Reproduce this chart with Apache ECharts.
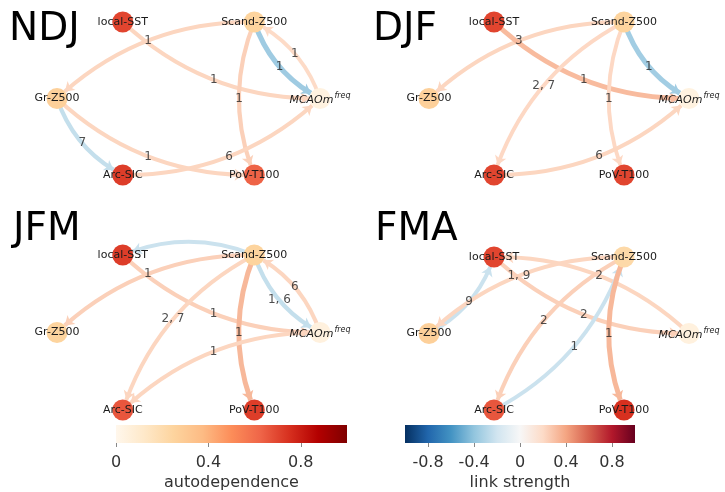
<!DOCTYPE html>
<html><head><meta charset="utf-8">
<script src="https://cdn.jsdelivr.net/npm/echarts@6/dist/echarts.min.js"></script>
<style>html,body{margin:0;padding:0;background:#fff}#c{width:725px;height:492px}</style>
</head><body><div id="c"></div>
<script>
// ---------------- data ----------------
const panelNames = ['NDJ', 'DJF', 'JFM', 'FMA'];
const nodeNames = ['Gr-Z500', 'local-SST', 'Scand-Z500', 'MCAOm', 'Arc-SIC', 'PoV-T100'];
// node layout on the circle (graph layout coordinates)
const nodeX = [-1, -0.5, 0.5, 1, -0.5, 0.5];
const nodeY = [0, 0.866, 0.866, 0, -0.866, -0.866];
// autodependence per node (order as nodeNames)
const autodepNDJ = [0.27, 0.70, 0.25, 0.04, 0.72, 0.63];
const autodepDJF = [0.27, 0.70, 0.25, 0.04, 0.70, 0.70];
const autodepJFM = [0.25, 0.72, 0.25, 0.05, 0.66, 0.72];
const autodepFMA = [0.27, 0.70, 0.22, 0.05, 0.66, 0.75];
// links: [source, target, link strength, lag label]
const linksNDJ = [
  ['Scand-Z500', 'Gr-Z500', 0.22, '1'],
  ['local-SST', 'MCAOm', 0.22, '1'],
  ['Scand-Z500', 'MCAOm', -0.36, '1'],
  ['MCAOm', 'Scand-Z500', 0.20, '1'],
  ['Scand-Z500', 'PoV-T100', 0.24, '1'],
  ['Gr-Z500', 'Arc-SIC', -0.24, '7'],
  ['Gr-Z500', 'PoV-T100', 0.22, '1'],
  ['Arc-SIC', 'MCAOm', 0.22, '6']
];
const linksDJF = [
  ['Scand-Z500', 'Gr-Z500', 0.22, '3'],
  ['local-SST', 'MCAOm', 0.32, '1'],
  ['Scand-Z500', 'Arc-SIC', 0.21, '2, 7'],
  ['Scand-Z500', 'PoV-T100', 0.21, '1'],
  ['Scand-Z500', 'MCAOm', -0.35, '1'],
  ['Arc-SIC', 'MCAOm', 0.22, '6']
];
const linksJFM = [
  ['Scand-Z500', 'local-SST', -0.22, '2'],
  ['Scand-Z500', 'Gr-Z500', 0.24, '1'],
  ['local-SST', 'MCAOm', 0.24, '1'],
  ['Scand-Z500', 'Arc-SIC', 0.22, '2, 7'],
  ['Scand-Z500', 'PoV-T100', 0.33, '1'],
  ['Scand-Z500', 'MCAOm', -0.24, '1, 6'],
  ['MCAOm', 'Scand-Z500', 0.22, '6'],
  ['MCAOm', 'Arc-SIC', 0.22, '1']
];
const linksFMA = [
  ['Gr-Z500', 'local-SST', -0.22, '9'],
  ['Scand-Z500', 'Gr-Z500', 0.22, '1, 9'],
  ['local-SST', 'MCAOm', 0.24, '2'],
  ['MCAOm', 'local-SST', 0.22, '2'],
  ['Scand-Z500', 'Arc-SIC', 0.24, '2'],
  ['Arc-SIC', 'Scand-Z500', -0.22, '1'],
  ['Scand-Z500', 'PoV-T100', 0.33, '1']
];
const autoTicks = [0, 0.4, 0.8];
const linkTicks = [-0.8, -0.4, 0, 0.4, 0.8];
const autoRange = [0, 1];
const linkRange = [-1, 1];

// ---------------- styles / layout ----------------
const autodeps = [autodepNDJ, autodepDJF, autodepJFM, autodepFMA];
const linkSets = [linksNDJ, linksDJF, linksJFM, linksFMA];
const panelBoxes = [
  {left: 57, top: 22, width: 263, height: 153},
  {left: 429, top: 22, width: 260, height: 153},
  {left: 57, top: 255, width: 263, height: 155},
  {left: 429, top: 257, width: 260, height: 153}
];
const titlePos = [
  {left: 9, top: 10}, {left: 373, top: 10}, {left: 13, top: 210}, {left: 375, top: 210}
];
const OrRd = ['#fff7ec','#fee8c8','#fdd49e','#fdbb84','#fc8d59','#ef6548','#d7301f','#b30000','#7f0000'];
const RdBu_r = ['#053061','#2166ac','#4393c3','#92c5de','#d1e5f0','#f7f7f7','#fddbc7','#f4a582','#d6604d','#b2182b','#67001f'];
const CURV = -0.2;
const FONT = 'DejaVu Sans';

function hex2rgb(h) { return [parseInt(h.substr(1,2),16), parseInt(h.substr(3,2),16), parseInt(h.substr(5,2),16)]; }
function cmap(stops, t) {
  t = Math.max(0, Math.min(1, t));
  const pos = t * (stops.length - 1);
  const i = Math.min(stops.length - 2, Math.floor(pos));
  const f = pos - i;
  const a = hex2rgb(stops[i]), b = hex2rgb(stops[i + 1]);
  const c = a.map((v, k) => Math.round(v + (b[k] - v) * f));
  return 'rgb(' + c.join(',') + ')';
}
function gradient(stops) {
  return {type: 'linear', x: 0, y: 0, x2: 1, y2: 0,
    colorStops: stops.map((s, i) => ({offset: i / (stops.length - 1), color: s}))};
}

const chart = echarts.init(document.getElementById('c'), null, {renderer: 'canvas'});

const grids = [], xAxes = [], yAxes = [], series = [], titles = [];
panelNames.forEach((name, i) => {
  grids.push(Object.assign({show: false}, panelBoxes[i]));
  xAxes.push({gridIndex: i, type: 'value', min: -1, max: 1, show: false});
  yAxes.push({gridIndex: i, type: 'value', min: -0.866, max: 0.866, show: false});
  titles.push({text: name, left: titlePos[i].left, top: titlePos[i].top, padding: 0,
    textStyle: {fontFamily: FONT, fontSize: 39, fontWeight: 'normal', color: '#000'}});
  series.push({
    type: 'graph', coordinateSystem: 'cartesian2d', xAxisIndex: i, yAxisIndex: i,
    layout: 'none', symbol: 'circle', symbolSize: 21,
    edgeSymbol: ['none', 'arrow'], edgeSymbolSize: 9,
    emphasis: {disabled: true},
    z: 2,
    label: {
      show: true, position: 'inside', color: '#1a1a1a', fontSize: 11, fontFamily: FONT,
      formatter: p => p.name === 'MCAOm' ? '{it|MCAOm}{sup|freq}' : p.name,
      rich: {
        it: {fontStyle: 'italic', fontSize: 11, color: '#1a1a1a', fontFamily: FONT, verticalAlign: 'bottom'},
        sup: {fontStyle: 'italic', fontSize: 8, color: '#1a1a1a', fontFamily: FONT, verticalAlign: 'bottom', padding: [0, 0, 6, 1]}
      }
    },
    data: nodeNames.map((n, k) => ({name: n, value: [nodeX[k], nodeY[k]],
      itemStyle: {color: cmap(OrRd, (autodeps[i][k] - autoRange[0]) / (autoRange[1] - autoRange[0])), opacity: 1}})),
    links: linkSets[i].map(l => ({source: l[0], target: l[1],
      lineStyle: {color: cmap(RdBu_r, (l[2] - linkRange[0]) / (linkRange[1] - linkRange[0])),
        width: 2 + 9 * Math.abs(l[2]), curveness: CURV, opacity: 1}}))
  });
});

// colorbars
const cbDefs = [
  {box: {left: 116, top: 425, width: 231, height: 22}, range: autoRange, ticks: autoTicks, stops: OrRd, name: 'autodependence'},
  {box: {left: 405, top: 425, width: 230, height: 22}, range: linkRange, ticks: linkTicks, stops: RdBu_r, name: 'link strength'}
];
cbDefs.forEach((cb, j) => {
  const gi = 4 + j;
  grids.push(Object.assign({show: true, backgroundColor: gradient(cb.stops), borderWidth: 0}, cb.box));
  xAxes.push({gridIndex: gi, type: 'value', min: cb.range[0], max: cb.range[1], position: 'bottom',
    axisLine: {show: false}, splitLine: {show: false},
    axisTick: {show: true, customValues: cb.ticks, length: 4, lineStyle: {color: '#888'}},
    axisLabel: {customValues: cb.ticks, fontSize: 16, color: '#333', margin: 12, fontFamily: FONT,
      formatter: v => String(Math.round(v * 10) / 10)},
    name: cb.name, nameLocation: 'middle', nameGap: 32,
    nameTextStyle: {fontSize: 16, color: '#333', fontFamily: FONT}});
  yAxes.push({gridIndex: gi, type: 'value', show: false});
});

const option = {
  animation: false,
  backgroundColor: '#fff',
  textStyle: {fontFamily: FONT},
  title: titles, grid: grids, xAxis: xAxes, yAxis: yAxes, series: series
};
chart.setOption(option);

// edge lag labels at the middle of each curved edge
panelNames.forEach((name, i) => {
  const pts = linkSets[i].map(l => {
    const a = nodeNames.indexOf(l[0]), b = nodeNames.indexOf(l[1]);
    const p1 = chart.convertToPixel({gridIndex: i}, [nodeX[a], nodeY[a]]);
    const p2 = chart.convertToPixel({gridIndex: i}, [nodeX[b], nodeY[b]]);
    const cp = [(p1[0] + p2[0]) / 2 - (p1[1] - p2[1]) * CURV, (p1[1] + p2[1]) / 2 - (p2[0] - p1[0]) * CURV];
    const m = [0.25 * p1[0] + 0.5 * cp[0] + 0.25 * p2[0], 0.25 * p1[1] + 0.5 * cp[1] + 0.25 * p2[1]];
    const d = chart.convertFromPixel({gridIndex: i}, m);
    return [d[0], d[1], l[3]];
  });
  option.series.push({
    type: 'scatter', xAxisIndex: i, yAxisIndex: i, symbolSize: 1, z: 5,
    itemStyle: {color: 'rgba(0,0,0,0)'}, emphasis: {disabled: true}, silent: true,
    label: {show: true, position: 'inside', color: '#222', fontSize: 12, fontFamily: FONT,
      formatter: p => p.value[2]},
    data: pts
  });
});
chart.setOption(option, true);
</script></body></html>
